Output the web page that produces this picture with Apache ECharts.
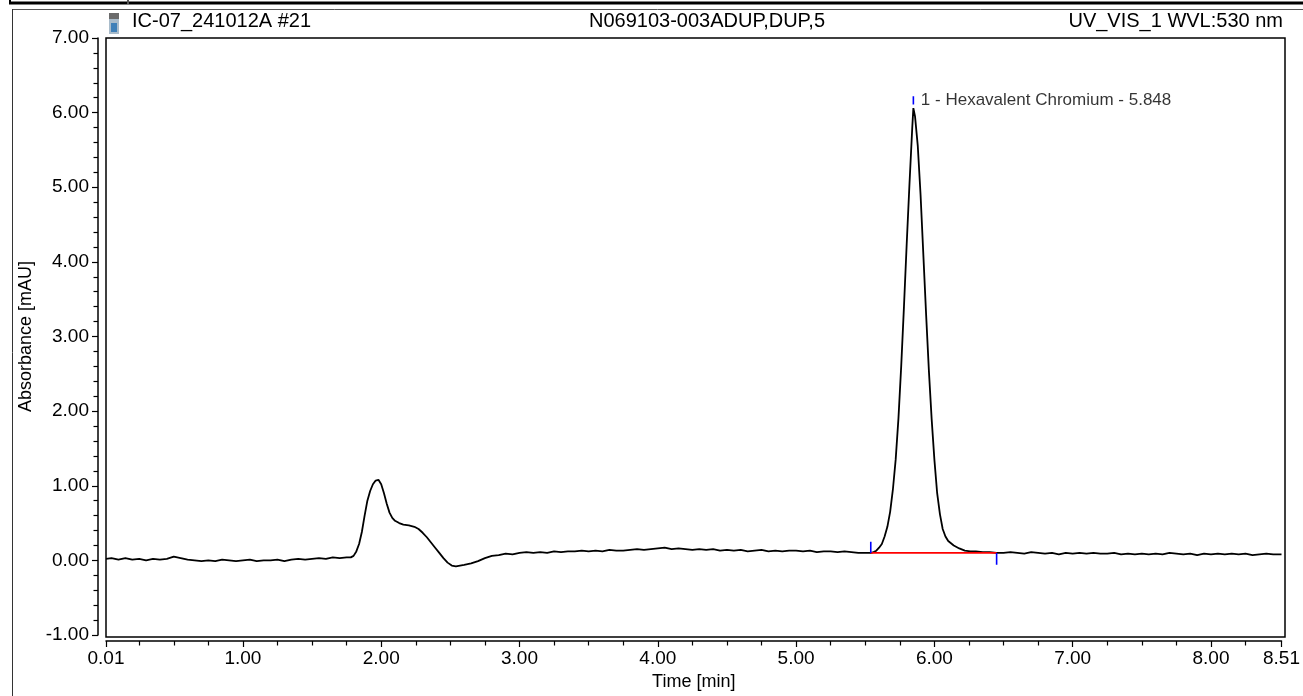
<!DOCTYPE html>
<html>
<head>
<meta charset="utf-8">
<script src="https://cdn.jsdelivr.net/npm/echarts@6/dist/echarts.min.js"></script>
<style>
html,body{margin:0;padding:0;background:#fff;}
#chart{width:1303px;height:696px;}
</style>
</head>
<body>
<div id="chart"></div>
<script>
// Chromatogram trace: retention time (min) and absorbance (mAU)
var times = [
  0.01,0.05,0.10,0.15,0.20,0.25,0.30,0.35,0.40,0.45,0.50,0.55,0.60,0.65,0.70,0.75,0.80,0.85,0.90,0.95,
  1.00,1.05,1.10,1.15,1.20,1.25,1.30,1.35,1.40,1.45,1.50,1.55,1.60,1.65,1.70,1.75,1.78,1.80,1.82,1.84,
  1.86,1.88,1.90,1.92,1.94,1.96,1.98,2.00,2.02,2.04,2.06,2.08,2.10,2.13,2.16,2.20,2.24,2.27,2.30,2.33,
  2.36,2.39,2.42,2.45,2.48,2.51,2.54,2.57,2.60,2.65,2.70,2.75,2.80,2.85,2.90,2.95,3.00,3.05,3.10,3.15,
  3.20,3.25,3.30,3.35,3.40,3.45,3.50,3.55,3.60,3.65,3.70,3.75,3.80,3.85,3.90,3.95,4.00,4.05,4.10,4.15,
  4.20,4.25,4.30,4.35,4.40,4.45,4.50,4.55,4.60,4.65,4.70,4.75,4.80,4.85,4.90,4.95,5.00,5.05,5.10,5.15,
  5.20,5.25,5.30,5.35,5.40,5.45,5.50,5.54,5.56,5.58,5.60,5.62,5.64,5.66,5.68,5.70,5.72,5.74,5.76,5.78,
  5.80,5.82,5.84,5.848,5.86,5.88,5.90,5.92,5.94,5.96,5.98,6.00,6.02,6.04,6.06,6.08,6.10,6.14,6.18,6.22,
  6.26,6.30,6.35,6.40,6.45,6.50,6.55,6.60,6.65,6.70,6.75,6.80,6.85,6.90,6.95,7.00,7.05,7.10,7.15,7.20,
  7.25,7.30,7.35,7.40,7.45,7.50,7.55,7.60,7.65,7.70,7.75,7.80,7.85,7.90,7.95,8.00,8.05,8.10,8.15,8.20,
  8.25,8.30,8.35,8.40,8.45,8.51
];
var absorbance = [
  0.02,0.03,0.01,0.03,0.01,0.02,0.00,0.02,0.01,0.02,0.05,0.03,0.01,0.00,-0.01,0.00,-0.01,0.01,0.00,-0.01,
  0.00,0.01,-0.01,0.00,0.00,0.01,-0.01,0.01,0.02,0.01,0.02,0.03,0.02,0.04,0.03,0.04,0.04,0.06,0.12,0.22,
  0.38,0.60,0.80,0.93,1.02,1.07,1.08,1.02,0.90,0.76,0.64,0.57,0.53,0.50,0.48,0.47,0.45,0.42,0.37,0.31,
  0.24,0.17,0.10,0.03,-0.03,-0.07,-0.08,-0.07,-0.06,-0.04,-0.01,0.03,0.06,0.07,0.09,0.08,0.10,0.11,0.10,0.11,
  0.10,0.12,0.11,0.12,0.12,0.13,0.12,0.13,0.12,0.14,0.13,0.13,0.14,0.15,0.14,0.15,0.16,0.17,0.15,0.16,
  0.15,0.14,0.15,0.14,0.15,0.13,0.14,0.13,0.14,0.12,0.13,0.14,0.12,0.13,0.12,0.13,0.13,0.12,0.13,0.11,
  0.12,0.12,0.11,0.12,0.11,0.10,0.10,0.10,0.11,0.13,0.17,0.22,0.32,0.45,0.65,0.95,1.35,1.90,2.60,3.40,
  4.25,5.05,5.80,6.06,5.95,5.55,4.90,4.10,3.30,2.55,1.90,1.35,0.90,0.62,0.42,0.32,0.26,0.20,0.16,0.13,
  0.12,0.12,0.11,0.11,0.10,0.10,0.11,0.10,0.09,0.11,0.10,0.09,0.10,0.08,0.10,0.09,0.10,0.09,0.10,0.09,
  0.09,0.10,0.08,0.09,0.08,0.09,0.08,0.09,0.08,0.10,0.09,0.08,0.09,0.07,0.09,0.08,0.09,0.08,0.09,0.08,
  0.09,0.07,0.08,0.09,0.08,0.08
];

// Integration of peak 1
var peakName = '1 - Hexavalent Chromium';
var peakTime = 5.848;
var peakStart = [5.54, 0.10];
var peakEnd = [6.45, 0.10];
var peakMarkTop = [6.11, 6.22];       // short marker above the apex
var startMarkSpan = [0.10, 0.25];     // delimiter above baseline at peak start
var endMarkSpan = [0.10, -0.06];      // delimiter below baseline at peak end

// Axis ticks
var xMajorTicks = [0.01, 1, 2, 3, 4, 5, 6, 7, 8, 8.51];
var xMinorTicks = [0.25, 0.5, 0.75, 1.25, 1.5, 1.75, 2.25, 2.5, 2.75, 3.25, 3.5, 3.75,
  4.25, 4.5, 4.75, 5.25, 5.5, 5.75, 6.25, 6.5, 6.75, 7.25, 7.5, 7.75, 8.25];

var headerLeft = 'IC-07_241012A #21';
var headerCenter = 'N069103-003ADUP,DUP,5';
var headerRight = 'UV_VIS_1 WVL:530 nm';

var trace = times.map(function (t, i) { return [t, absorbance[i]]; });

var FONT = '"Liberation Sans", Arial, sans-serif';
var chart = echarts.init(document.getElementById('chart'), null, { renderer: 'canvas' });

chart.setOption({
  animation: false,
  backgroundColor: '#ffffff',
  grid: { left: 106, right: 18, top: 38, bottom: 59 },
  xAxis: [{
    type: 'value', min: 0.01, max: 8.51,
    position: 'bottom', offset: 6,
    axisLine: { show: true, onZero: false, lineStyle: { color: '#000', width: 1.5 } },
    axisTick: { show: true, length: 6, customValues: xMajorTicks, lineStyle: { color: '#000', width: 1.2 } },
    axisLabel: { customValues: xMajorTicks, color: '#000', fontSize: 19, fontFamily: FONT, margin: 8,
      formatter: function (v) { return v.toFixed(2); } },
    splitLine: { show: false },
    name: 'Time [min]', nameLocation: 'middle', nameGap: 32,
    nameTextStyle: { color: '#000', fontSize: 18, fontFamily: FONT }
  }, {
    type: 'value', min: 0.01, max: 8.51,
    position: 'bottom', offset: 6,
    axisLine: { show: false, onZero: false },
    axisTick: { show: true, length: 4.5, customValues: xMinorTicks, lineStyle: { color: '#000', width: 1.2 } },
    axisLabel: { show: false },
    splitLine: { show: false }
  }],
  yAxis: {
    type: 'value', min: -1, max: 7, interval: 1,
    offset: 8,
    axisLine: { show: true, onZero: false, lineStyle: { color: '#000', width: 1.5 } },
    axisTick: { show: true, length: 6, lineStyle: { color: '#000', width: 1.2 } },
    minorTick: { show: true, splitNumber: 5, length: 4.5, lineStyle: { color: '#000', width: 1.2 } },
    axisLabel: { color: '#000', fontSize: 19, fontFamily: FONT, margin: 9,
      formatter: function (v) { return v.toFixed(2); } },
    splitLine: { show: false },
    name: 'Absorbance [mAU]', nameLocation: 'middle', nameGap: 63, nameRotate: 90,
    nameTextStyle: { color: '#000', fontSize: 18, fontFamily: FONT }
  },
  series: [{
    type: 'line', data: trace, showSymbol: false, symbol: 'none',
    lineStyle: { color: '#000', width: 1.8 }, z: 3
  }, {
    type: 'line', data: [peakStart, peakEnd], showSymbol: false, symbol: 'none',
    lineStyle: { color: '#ff0000', width: 1.6 }, z: 4
  }, {
    type: 'line', data: [[peakStart[0], startMarkSpan[0]], [peakStart[0], startMarkSpan[1]]],
    showSymbol: false, symbol: 'none', lineStyle: { color: '#0000ff', width: 1.6 }, z: 5
  }, {
    type: 'line', data: [[peakEnd[0], endMarkSpan[0]], [peakEnd[0], endMarkSpan[1]]],
    showSymbol: false, symbol: 'none', lineStyle: { color: '#0000ff', width: 1.6 }, z: 5
  }, {
    type: 'line', data: [[peakTime, peakMarkTop[0]], [peakTime, peakMarkTop[1]]],
    showSymbol: false, symbol: 'none', lineStyle: { color: '#0000ff', width: 1.6 }, z: 5
  }, {
    // peak annotation text
    type: 'scatter', data: [[peakTime, (peakMarkTop[0] + peakMarkTop[1]) / 2]],
    symbolSize: 1, itemStyle: { color: 'rgba(0,0,0,0)' }, z: 6,
    label: {
      show: true, position: 'right', distance: 7,
      formatter: peakName + ' - ' + peakTime.toFixed(3),
      color: '#000', fontSize: 17, fontFamily: FONT
    }
  }],
  graphic: [
    // frame round the plotting area
    { type: 'rect', shape: { x: 106, y: 38, width: 1179, height: 599 },
      style: { fill: 'none', stroke: '#000', lineWidth: 1.5 }, z: 10 },
    // outer panel border
    { type: 'line', shape: { x1: 12, y1: 9.5, x2: 1303, y2: 9.5 }, style: { stroke: '#555', lineWidth: 1 } },
    { type: 'line', shape: { x1: 12.5, y1: 9, x2: 12.5, y2: 696 }, style: { stroke: '#333', lineWidth: 1 } },
    // heavy rule along the top
    { type: 'rect', shape: { x: 9, y: 1.5, width: 1294, height: 3 }, style: { fill: '#000' } },
    { type: 'rect', shape: { x: 9, y: 0, width: 2, height: 4 }, style: { fill: '#000' } },
    { type: 'rect', shape: { x: 127, y: 0, width: 2, height: 4 }, style: { fill: '#555' } },
    // vial icon
    { type: 'rect', shape: { x: 109, y: 13, width: 10, height: 6 }, style: { fill: '#6b6b6b' } },
    { type: 'rect', shape: { x: 109, y: 19, width: 10, height: 15 }, style: { fill: '#a9bccb' } },
    { type: 'rect', shape: { x: 111, y: 23, width: 6, height: 9 }, style: { fill: '#3f80b8' } },
    // header texts
    { type: 'text', x: 132, y: 11,
      style: { text: headerLeft, fill: '#000', fontSize: 20, fontFamily: FONT } },
    { type: 'text', x: 707, y: 11,
      style: { text: headerCenter, fill: '#000', fontSize: 20, fontFamily: FONT, textAlign: 'center' } },
    { type: 'text', x: 1283, y: 11,
      style: { text: headerRight, fill: '#000', fontSize: 20, fontFamily: FONT, textAlign: 'right' } }
  ]
});
</script>
</body>
</html>
